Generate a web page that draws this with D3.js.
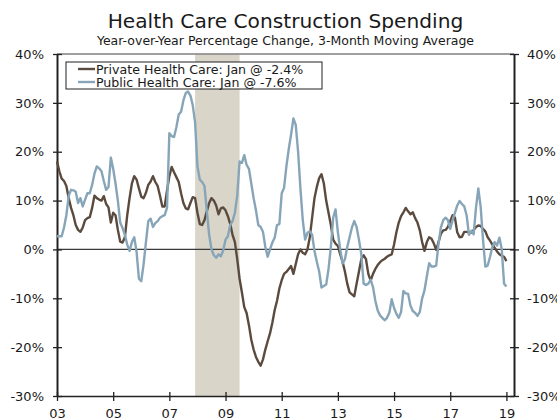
<!DOCTYPE html>
<html>
<head>
<meta charset="utf-8">
<script src="https://cdn.jsdelivr.net/npm/d3@7"></script>
<style>
  body { margin: 0; background: #fff; }
  text { font-family: "DejaVu Sans", Verdana, sans-serif; fill: #1a1a1a; }
</style>
</head>
<body>
<svg id="chart"></svg>
<script>
// Datos: mensual, ene 2003 - ene 2019
const startYear = 2003;
const privateCare = [
  18, 16, 14.5, 14, 13, 10.5, 8.5, 7, 5, 4, 3.6, 4.5,
  6, 6.4, 6.6, 8.5, 11, 10.5, 10.2, 10, 10.9, 9.3, 8.6, 5.5,
  7.5, 7, 4, 1.6, 1.4, 2.5, 7, 10.5, 13.5, 15, 14.3, 12.5,
  10.8, 10.5, 11.6, 13.2, 13.9, 15, 13.8, 13, 11, 8.8, 8.8, 12,
  15, 16.9, 15.8, 14.8, 13.8, 11.5, 9.5, 8.4, 8.2, 9.5, 10.7, 10.5,
  7.5, 5.2, 5, 6, 7.8, 9.5, 10.5, 10, 9, 7.2, 8.4, 8.6,
  8, 6.8, 5.2, 3, 1.5, -2, -6, -8.8, -11.8, -13, -15.5, -18.5,
  -20.5, -22, -23, -23.8, -22.5, -20.5, -18.8, -17.2, -15, -12.4, -10.5, -8,
  -6.3, -5, -4.6, -4, -3.4, -5, -3, -1, 0, -0.7, -1, 0,
  2.5, 6.5, 10.5, 12.8, 14.6, 15.4, 13.5, 10, 7.5, 5, 2, 1.2,
  0.7, -1, -2.5, -4.5, -7, -8.8, -9.2, -9.6, -7, -4.5, -2, -1.2,
  -2, -5, -6.4, -5, -4, -3.2, -2.6, -2.2, -1.9, -1.5, -1.2, -1,
  1, 3.5, 5.5, 6.8, 7.6, 8.5, 7.8, 7.2, 7.6, 6.4, 5.5, 3.9,
  1.5, -0.3, 1.5, 2.5, 2.2, 1.2, -0.1, 1.5, 3.2, 3.9, 4, 4.6,
  5.8, 7, 6.5, 3.5, 2.5, 2.6, 3.6, 3.6, 3.5, 3.4, 4, 4.6,
  4.9, 4.8, 4.2, 3.7, 2.5, 1.8, 1, 0.3, -0.4, -1, -1.3, -1.5,
  -2.4
];
const publicCare = [
  2.7, 2.7, 2.7, 4.5, 7, 11, 12.2, 12.1, 11.8, 9.5, 10.5, 8.8,
  10.2, 11.5, 11.5, 13.2, 15.5, 17, 16.6, 16, 14, 12.2, 12.8, 18.8,
  16.5, 13.5, 10, 5.5, 4.4, 3, 1, -0.3, 1.5, 2.5, -0.5, -6,
  -6.5, -3, 1.5, 5.8, 6.3, 4.6, 5.4, 5.8, 6.5, 6.8, 7, 8.5,
  23.8, 23.2, 23, 25, 27.6, 28.2, 30.5, 32, 32.3, 31.5, 29.5, 26,
  17, 14.3, 13.8, 13, 8, 3, 0, -1.2, -1.7, -1, -1.4, -0.2,
  2, 2.7, 5, 5.8, 7.5, 11, 18, 17.7, 19.3, 17.3, 16.5, 13.5,
  10.5, 8, 5, 4.6, 3.6, 0.5, -1.5, 0, 1.4, 2.4, 5, 5.2,
  11.5, 12.6, 17, 20.5, 23.5, 26.8, 25.5, 20, 12.5, 6, 2, 3.4,
  3.7, 3, -0.3, -2.5, -4.5, -7.8, -7.5, -7.2, -4, 0.5, 6.5, 8.2,
  3.5, 0, -2.9, -2, 0.5, 2.5, 4.5, 5.8, 4.6, 2, -1, -7,
  -7.3, -7, -6.2, -7.7, -10.5, -12.5, -13.5, -14, -14.5, -14, -12.9, -10.2,
  -12, -13.2, -14, -12.8, -8.5, -9, -9.1, -11.5, -12.6, -13, -13.6, -12.8,
  -10, -8.4, -5.5, -2.8, -3.5, -3.5, -3.3, 1.2, 4.5, 6, 6.5, 6,
  4.2, 6, 7.5, 9, 9.9, 9.3, 8.8, 7, 3, 3.8, 3.1, 8.5,
  12.5, 8.7, 2, -3.5, -3.3, -1.5, 0.5, 1.5, 0.8, 2.4, 0.1, -7,
  -7.6
];
const yTicks = [-30, -20, -10, 0, 10, 20, 30, 40];
const xTicks = [2003, 2005, 2007, 2009, 2011, 2013, 2015, 2017, 2019];
const recession = [2007 + 11 / 12, 2009.5];
const seriesNames = ["Private Health Care: Jan @ -2.4%", "Public Health Care: Jan @ -7.6%"];

// Configuración
const width = 557;
const height = 418;
const plotLeft = 57, plotRight = 514, plotTop = 54, plotBottom = 396;
const colors = ["#5b4b3f", "#87a5b8"];

const svg = d3.select("#chart")
    .attr("width", width)
    .attr("height", height);

const xScale = d3.scaleLinear()
    .domain([2003, 2019.27])
    .range([plotLeft, plotRight]);

const yScale = d3.scaleLinear()
    .domain([-30, 40])
    .range([plotBottom, plotTop]);

// Recesión
svg.append("rect")
    .attr("x", xScale(recession[0]))
    .attr("y", plotTop)
    .attr("width", xScale(recession[1]) - xScale(recession[0]))
    .attr("height", plotBottom - plotTop)
    .attr("fill", "#d9d5c9");

// Marco superior
svg.append("line")
    .attr("x1", plotLeft).attr("x2", plotRight)
    .attr("y1", plotTop).attr("y2", plotTop)
    .attr("stroke", "#808080")
    .attr("stroke-width", 1.5);

// Línea cero
svg.append("line")
    .attr("x1", plotLeft).attr("x2", plotRight)
    .attr("y1", yScale(0)).attr("y2", yScale(0))
    .attr("stroke", "#3a3a3a")
    .attr("stroke-width", 1.2);

// Ejes
const yLeft = d3.axisLeft(yScale).tickValues(yTicks)
    .tickFormat(d => d + "%").tickSizeInner(5).tickSizeOuter(0).tickPadding(8);
const yRight = d3.axisRight(yScale).tickValues(yTicks)
    .tickFormat(d => d + "%").tickSizeInner(5).tickSizeOuter(0).tickPadding(8);
const xAxis = d3.axisBottom(xScale).tickValues(xTicks)
    .tickFormat(d => String(d).slice(2)).tickSizeInner(5).tickSizeOuter(0).tickPadding(8);

function styleAxis(g, w) {
    g.select(".domain").attr("stroke", "#222").attr("stroke-width", w);
    g.selectAll(".tick line").attr("stroke", "#222").attr("stroke-width", 1.3);
    g.selectAll(".tick text").style("font-size", "13px").attr("fill", "#1a1a1a");
}

svg.append("g")
    .attr("transform", `translate(${plotLeft},0)`)
    .call(yLeft)
    .call(g => styleAxis(g, 2))
    .call(g => g.selectAll(".tick line").attr("x1", -4).attr("x2", 5));

svg.append("g")
    .attr("transform", `translate(${plotRight},0)`)
    .call(yRight)
    .call(g => styleAxis(g, 2))
    .call(g => g.selectAll(".tick line").attr("x1", -4).attr("x2", 5));

svg.append("g")
    .attr("transform", `translate(0,${plotBottom})`)
    .call(xAxis)
    .call(g => styleAxis(g, 1.5))
    .call(g => g.selectAll(".tick line").attr("y1", -4).attr("y2", 5));

// Líneas
const line = d3.line()
    .x((d, i) => xScale(startYear + i / 12))
    .y(d => yScale(d));

[privateCare, publicCare].forEach((s, k) => {
    svg.append("path")
        .datum(s)
        .attr("fill", "none")
        .attr("stroke", colors[k])
        .attr("stroke-width", 2.4)
        .attr("stroke-linejoin", "round")
        .attr("d", line);
});

// Leyenda
const legend = svg.append("g").attr("transform", "translate(66,62)");
legend.append("rect")
    .attr("width", 256).attr("height", 27)
    .attr("fill", "#fff")
    .attr("stroke", "#222")
    .attr("stroke-width", 1);
seriesNames.forEach((name, k) => {
    const y = 7 + k * 13;
    legend.append("line")
        .attr("x1", 12).attr("x2", 29)
        .attr("y1", y).attr("y2", y)
        .attr("stroke", colors[k])
        .attr("stroke-width", 2.4);
    legend.append("text")
        .attr("x", 30).attr("y", y + 4.5)
        .style("font-size", "12.6px")
        .text(name);
});

// Títulos
const cx = (plotLeft + plotRight) / 2;
svg.append("text")
    .attr("x", cx).attr("y", 28)
    .attr("text-anchor", "middle")
    .style("font-size", "20.2px")
    .text("Health Care Construction Spending");
svg.append("text")
    .attr("x", cx).attr("y", 45)
    .attr("text-anchor", "middle")
    .style("font-size", "12.5px")
    .text("Year-over-Year Percentage Change, 3-Month Moving Average");
</script>
</body>
</html>
